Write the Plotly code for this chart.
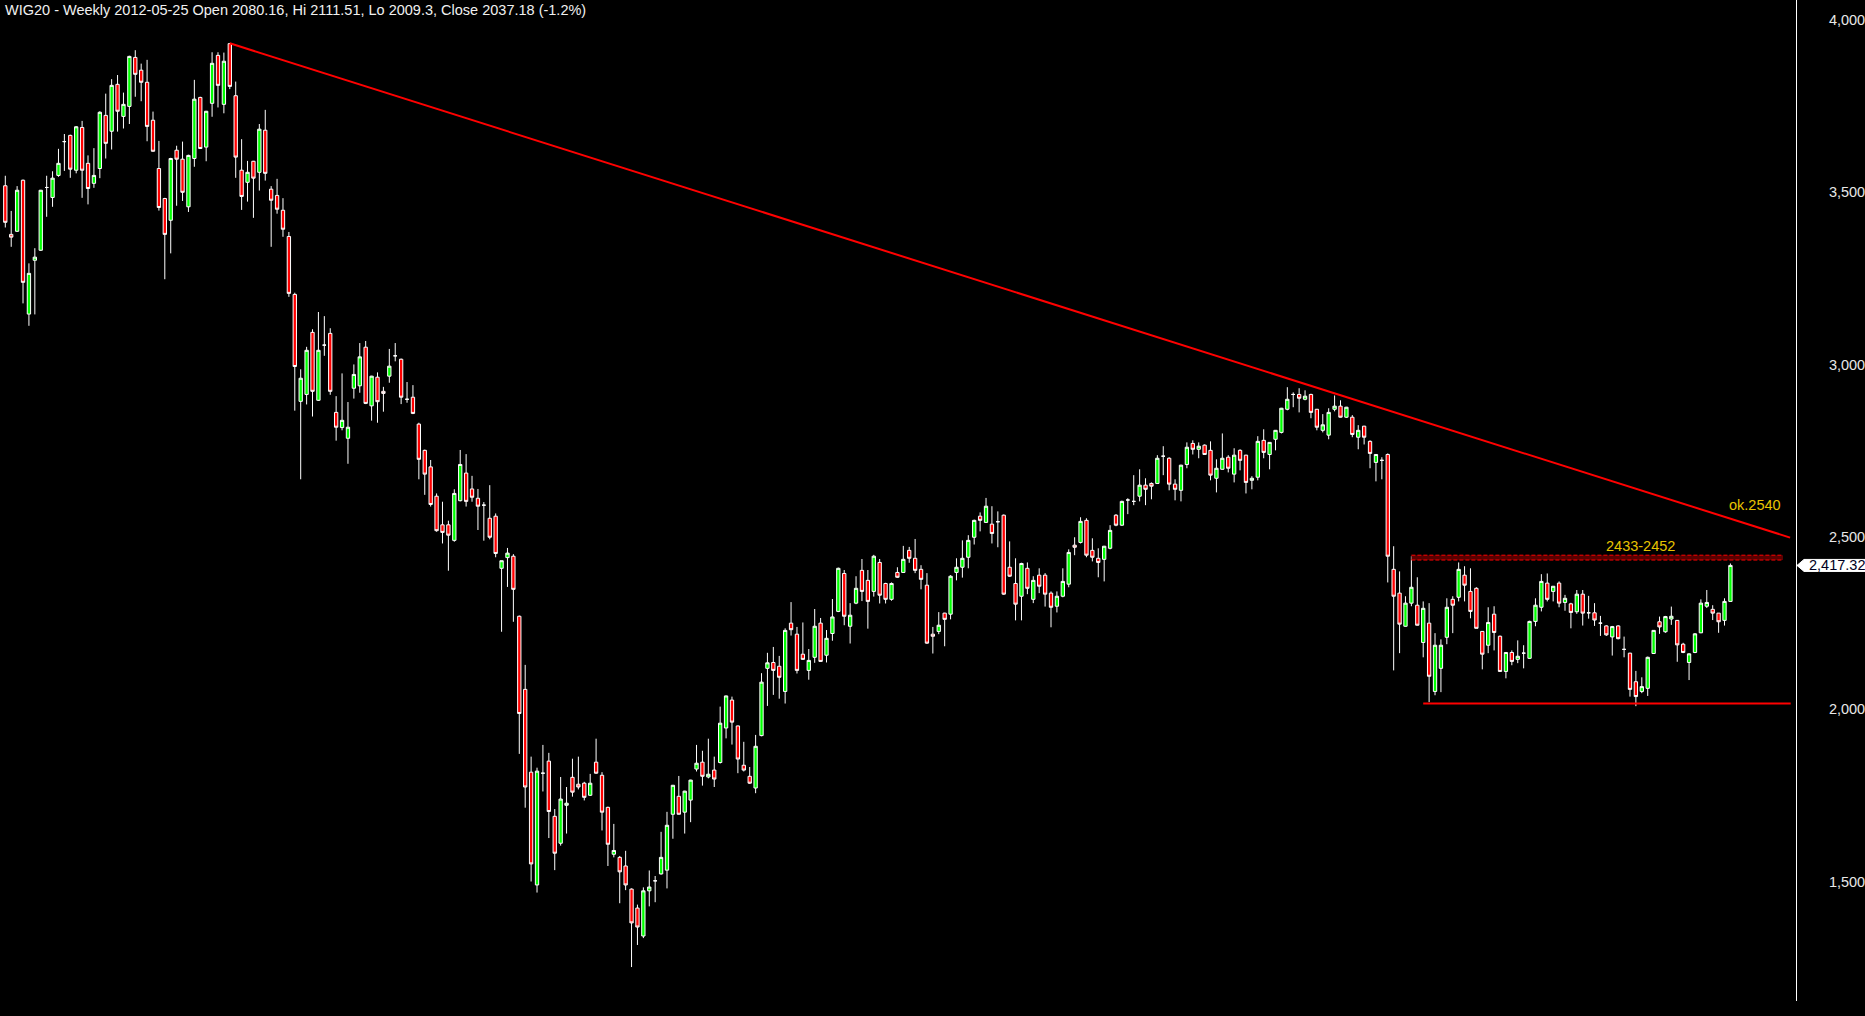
import plotly.graph_objects as go

# ---- weekly OHLC for WIG20 ----
opens = [3518, 3377, 3386, 3534, 3146, 3302, 3331, 3513, 3484, 3548,
         3646, 3664, 3563, 3687, 3583, 3525, 3568, 3722, 3676, 3812,
         3719, 3748, 3890, 3853, 3818, 3708, 3568, 3481, 3418, 3621,
         3595, 3457, 3597, 3774, 3630, 3757, 3896, 3754, 3930, 3779,
         3563, 3528, 3589, 3557, 3679, 3508, 3490, 3447, 3371, 3203,
         2893, 2913, 3093, 2896, 3056, 3090, 2861, 2817, 2786, 2931,
         2938, 3050, 2880, 2963, 2922, 2966, 3025, 3015, 2899, 2905,
         2827, 2751, 2703, 2618, 2535, 2535, 2490, 2605, 2685, 2639,
         2612, 2592, 2554, 2560, 2409, 2440, 2444, 2270, 2058, 1818,
         1491, 1815, 1850, 1690, 1612, 1722, 1803, 1783, 1786, 1751,
         1847, 1809, 1716, 1580, 1571, 1546, 1479, 1424, 1343, 1474,
         1503, 1523, 1534, 1696, 1748, 1702, 1737, 1827, 1847, 1804,
         1824, 1846, 1946, 2027, 1952, 1838, 1806, 1772, 1924, 2119,
         2136, 2125, 2052, 2250, 2218, 2160, 2113, 2151, 2250, 2157,
         2220, 2284, 2394, 2241, 2308, 2403, 2374, 2342, 2426, 2365,
         2319, 2397, 2397, 2461, 2438, 2406, 2360, 2218, 2226, 2279,
         2276, 2397, 2412, 2441, 2499, 2560, 2542, 2537, 2544, 2563,
         2412, 2365, 2328, 2409, 2319, 2389, 2389, 2337, 2299, 2328,
         2363, 2476, 2484, 2548, 2461, 2438, 2435, 2467, 2563, 2534,
         2607, 2603, 2618, 2650, 2655, 2655, 2734, 2728, 2653, 2635,
         2710, 2771, 2754, 2766, 2751, 2670, 2696, 2731, 2682, 2751,
         2737, 2664, 2673, 2780, 2739, 2783, 2803, 2870, 2913, 2913,
         2899, 2913, 2870, 2809, 2795, 2870, 2879, 2847, 2847, 2789,
         2821, 2777, 2716, 2722, 2739, 2406, 2337, 2241, 2308, 2302,
         2194, 2250, 2052, 2119, 2209, 2319, 2325, 2389, 2342, 2351,
         2226, 2186, 2276, 2212, 2110, 2165, 2145, 2163, 2148, 2255,
         2296, 2366, 2342, 2366, 2310, 2306, 2283, 2334, 2280, 2280,
         2250, 2242, 2210, 2242, 2174, 2163, 2080.16, 2052, 2061, 2162,
         2254, 2225, 2262, 2258, 2189, 2136, 2165, 2222, 2299, 2290,
         2279, 2258, 2313]
highs = [3547, 3445, 3517, 3536, 3293, 3337, 3506, 3547, 3560, 3625,
         3668, 3666, 3691, 3706, 3606, 3627, 3734, 3785, 3827, 3839,
         3788, 3895, 3911, 3872, 3883, 3733, 3648, 3483, 3599, 3634,
         3646, 3608, 3825, 3776, 3735, 3905, 3905, 3904, 3932, 3820,
         3653, 3590, 3590, 3697, 3738, 3517, 3538, 3482, 3384, 3208,
         2986, 3051, 3102, 3152, 3140, 3105, 2908, 2974, 2891, 3000,
         3062, 3068, 2967, 2977, 2935, 3045, 3062, 3017, 2949, 2940,
         2831, 2753, 2723, 2626, 2602, 2547, 2638, 2752, 2740, 2677,
         2639, 2601, 2650, 2568, 2431, 2468, 2450, 2272, 2129, 1863,
         1831, 1897, 1874, 1711, 1804, 1775, 1857, 1863, 1790, 1813,
         1915, 1818, 1718, 1668, 1575, 1590, 1481, 1434, 1484, 1533,
         1517, 1645, 1703, 1781, 1807, 1764, 1796, 1897, 1880, 1915,
         1863, 2008, 2040, 2037, 1953, 1906, 1833, 1926, 2105, 2164,
         2181, 2155, 2235, 2311, 2239, 2252, 2175, 2291, 2265, 2230,
         2320, 2411, 2404, 2308, 2386, 2436, 2404, 2448, 2436, 2367,
         2368, 2412, 2474, 2471, 2494, 2418, 2395, 2239, 2282, 2280,
         2389, 2438, 2490, 2505, 2550, 2571, 2613, 2589, 2574, 2565,
         2487, 2438, 2425, 2426, 2386, 2409, 2395, 2342, 2342, 2409,
         2464, 2499, 2557, 2554, 2496, 2467, 2474, 2534, 2566, 2605,
         2612, 2679, 2696, 2670, 2658, 2737, 2763, 2731, 2667, 2709,
         2774, 2780, 2774, 2768, 2777, 2725, 2800, 2737, 2757, 2754,
         2738, 2676, 2792, 2812, 2775, 2810, 2874, 2934, 2919, 2931,
         2925, 2915, 2871, 2856, 2873, 2910, 2896, 2877, 2853, 2824,
         2822, 2780, 2740, 2731, 2742, 2473, 2400, 2328, 2444, 2383,
         2313, 2308, 2221, 2203, 2322, 2328, 2426, 2415, 2409, 2354,
         2227, 2296, 2299, 2214, 2166, 2171, 2200, 2186, 2257, 2322,
         2392, 2394, 2357, 2371, 2332, 2309, 2346, 2346, 2329, 2308,
         2271, 2244, 2242, 2244, 2211, 2164, 2111.51, 2093, 2153, 2230,
         2269, 2271, 2298, 2259, 2193, 2163, 2221, 2319, 2346, 2302,
         2279, 2322, 2423]
lows = [3397, 3341, 3384, 3177, 3112, 3145, 3329, 3428, 3457, 3544,
        3561, 3541, 3554, 3483, 3464, 3512, 3540, 3597, 3623, 3675,
        3684, 3697, 3776, 3763, 3647, 3617, 3446, 3247, 3322, 3460,
        3474, 3442, 3573, 3625, 3589, 3718, 3745, 3728, 3798, 3541,
        3448, 3472, 3425, 3504, 3533, 3341, 3437, 3370, 3196, 2866,
        2667, 2884, 2849, 2894, 3025, 2912, 2779, 2809, 2712, 2901,
        2918, 2885, 2837, 2831, 2863, 2947, 3009, 2885, 2889, 2856,
        2667, 2622, 2588, 2515, 2481, 2402, 2486, 2603, 2588, 2602,
        2520, 2489, 2493, 2441, 2225, 2355, 2254, 1871, 1715, 1501,
        1469, 1762, 1627, 1534, 1605, 1640, 1747, 1768, 1736, 1749,
        1813, 1649, 1546, 1571, 1438, 1476, 1253, 1317, 1337, 1429,
        1441, 1521, 1481, 1625, 1695, 1640, 1673, 1820, 1779, 1800,
        1775, 1843, 1916, 1898, 1815, 1820, 1784, 1757, 1922, 2010,
        2042, 2031, 2017, 2214, 2104, 2144, 2086, 2135, 2138, 2136,
        2199, 2282, 2244, 2191, 2305, 2314, 2234, 2327, 2307, 2307,
        2315, 2381, 2396, 2425, 2395, 2348, 2190, 2162, 2218, 2183,
        2261, 2374, 2382, 2409, 2478, 2516, 2541, 2481, 2470, 2332,
        2384, 2258, 2258, 2334, 2308, 2337, 2298, 2238, 2281, 2325,
        2354, 2447, 2481, 2441, 2429, 2383, 2371, 2464, 2531, 2532,
        2566, 2592, 2603, 2592, 2609, 2654, 2679, 2635, 2606, 2603,
        2699, 2739, 2728, 2738, 2664, 2629, 2695, 2687, 2658, 2693,
        2626, 2638, 2664, 2728, 2696, 2751, 2800, 2867, 2876, 2861,
        2896, 2844, 2809, 2803, 2783, 2864, 2846, 2845, 2789, 2754,
        2768, 2699, 2661, 2667, 2368, 2113, 2163, 2240, 2299, 2243,
        2151, 2021, 2041, 2050, 2189, 2221, 2313, 2313, 2264, 2235,
        2116, 2163, 2171, 2109, 2090, 2128, 2134, 2119, 2147, 2241,
        2284, 2313, 2313, 2296, 2286, 2235, 2277, 2243, 2263, 2242,
        2213, 2213, 2156, 2203, 2151, 2037, 2009.3, 2047, 2039, 2161,
        2219, 2222, 2245, 2138, 2163, 2085, 2163, 2221, 2294, 2259,
        2222, 2243, 2313]
closes = [3412, 3369, 3505, 3238, 3264, 3311, 3505, 3513, 3540, 3583,
          3646, 3566, 3689, 3563, 3510, 3548, 3731, 3641, 3809, 3734,
          3754, 3893, 3841, 3818, 3690, 3618, 3455, 3377, 3597, 3595,
          3499, 3606, 3769, 3626, 3734, 3873, 3809, 3879, 3806, 3601,
          3487, 3557, 3540, 3682, 3554, 3476, 3450, 3392, 3206, 2994,
          2960, 3041, 2922, 3041, 3056, 2922, 2818, 2838, 2818, 2971,
          3022, 2887, 2966, 2892, 2916, 2995, 3025, 2905, 2899, 2858,
          2725, 2682, 2594, 2518, 2513, 2505, 2626, 2710, 2603, 2615,
          2589, 2592, 2499, 2452, 2431, 2453, 2348, 1988, 1775, 1552,
          1821, 1815, 1704, 1583, 1740, 1728, 1760, 1775, 1745, 1786,
          1815, 1702, 1609, 1591, 1529, 1491, 1381, 1369, 1474, 1485,
          1503, 1571, 1664, 1780, 1696, 1763, 1795, 1844, 1806, 1812,
          1798, 1960, 2039, 1963, 1856, 1824, 1786, 1893, 2079, 2135,
          2113, 2093, 2229, 2231, 2113, 2145, 2142, 2241, 2139, 2206,
          2268, 2409, 2270, 2273, 2351, 2342, 2313, 2444, 2331, 2319,
          2365, 2383, 2435, 2438, 2403, 2377, 2192, 2212, 2244, 2261,
          2386, 2412, 2438, 2490, 2548, 2548, 2589, 2510, 2544, 2334,
          2386, 2305, 2423, 2351, 2374, 2357, 2334, 2296, 2328, 2371,
          2455, 2470, 2545, 2447, 2441, 2426, 2473, 2519, 2534, 2603,
          2607, 2603, 2650, 2638, 2647, 2728, 2734, 2653, 2638, 2708,
          2760, 2754, 2763, 2739, 2679, 2699, 2728, 2699, 2737, 2722,
          2658, 2670, 2777, 2745, 2774, 2809, 2873, 2899, 2913, 2902,
          2908, 2861, 2818, 2825, 2861, 2879, 2847, 2876, 2797, 2809,
          2789, 2742, 2739, 2722, 2444, 2328, 2247, 2308, 2354, 2244,
          2293, 2096, 2186, 2186, 2296, 2302, 2406, 2360, 2284, 2235,
          2160, 2252, 2223, 2110, 2165, 2139, 2154, 2163, 2255, 2302,
          2371, 2319, 2357, 2308, 2322, 2281, 2334, 2279, 2280, 2259,
          2250, 2216, 2240, 2205, 2174, 2058, 2037.18, 2066, 2151, 2229,
          2239, 2269, 2270, 2187, 2165, 2161, 2219, 2308, 2310, 2279,
          2254, 2313, 2417.32]
weeks = list(range(len(closes)))

# ---- drawn studies (week index, price) ----
trend_x = [38, 302.1]
trend_y = [3931, 2498]
support_x = [240, 302.2]
support_y = 2017
zone_x = [238, 300.9]
zone_y = [2433, 2447]
zone_label = "2433-2452"
zone_label_pos = (276.8, 2474.5)
target_label = "ok.2540"
target_label_pos = (296.2, 2592.5)
last_price = 2417.32
title_text = "WIG20 - Weekly 2012-05-25 Open 2080.16, Hi 2111.51, Lo 2009.3, Close 2037.18 (-1.2%)"
y_ticks = [1500, 2000, 2500, 3000, 3500, 4000]

FONT = "Liberation Sans, Arial, sans-serif"
GOLD = "#E8C400"

fig = go.Figure()
fig.add_trace(go.Candlestick(
    x=weeks, open=opens, high=highs, low=lows, close=closes,
    increasing=dict(fillcolor="#00FF00", line=dict(color="white", width=1)),
    decreasing=dict(fillcolor="#FF0000", line=dict(color="white", width=1)),
    whiskerwidth=0, hoverinfo="skip", showlegend=False,
))

shapes = []
# resistance zone
shapes.append(dict(type="rect", xref="x", yref="y", x0=zone_x[0], x1=zone_x[1],
                   y0=zone_y[0], y1=zone_y[1], fillcolor="#5A0000",
                   line=dict(width=0), layer="above"))
for yy in zone_y:
    shapes.append(dict(type="line", xref="x", yref="y", x0=zone_x[0], x1=zone_x[1],
                       y0=yy, y1=yy, line=dict(color="#FF0000", width=1, dash="4px,2px"),
                       layer="above"))
# trend line
shapes.append(dict(type="line", xref="x", yref="y", x0=trend_x[0], x1=trend_x[1],
                   y0=trend_y[0], y1=trend_y[1], line=dict(color="#FF0000", width=2),
                   layer="above"))
# support line
shapes.append(dict(type="line", xref="x", yref="y", x0=support_x[0], x1=support_x[1],
                   y0=support_y, y1=support_y, line=dict(color="#FF0000", width=2),
                   layer="above"))
# last price tag
shapes.append(dict(type="path", xref="paper", xsizemode="pixel", xanchor=1,
                   yref="y", ysizemode="pixel", yanchor=last_price,
                   path="M 1,0 L 8,6 L 75,6 L 75,-6 L 8,-6 Z",
                   fillcolor="white", line=dict(color="white", width=1), layer="above"))

annotations = [
    dict(text=title_text, xref="paper", yref="paper", x=0, y=1, xanchor="left",
         yanchor="middle", xshift=3, yshift=-9.5, showarrow=False,
         font=dict(family=FONT, size=14.5, color="#F0F0F0")),
    dict(text=zone_label, xref="x", yref="y", x=zone_label_pos[0], y=zone_label_pos[1],
         showarrow=False, font=dict(family=FONT, size=14.5, color=GOLD)),
    dict(text=target_label, xref="x", yref="y", x=target_label_pos[0], y=target_label_pos[1],
         showarrow=False, font=dict(family=FONT, size=14.5, color=GOLD)),
    dict(text=f"{last_price:,.2f}", xref="paper", yref="y", x=1, y=last_price,
         xanchor="left", yanchor="middle", xshift=11, showarrow=False,
         font=dict(family=FONT, size=14.5, color="#000022")),
]

fig.update_layout(
    width=1865, height=1016,
    margin=dict(l=0, r=69, t=0, b=15, pad=0),
    paper_bgcolor="black", plot_bgcolor="black",
    boxgap=0.2,
    showlegend=False,
    shapes=shapes, annotations=annotations,
    xaxis=dict(visible=False, range=[-0.897, 303.1], rangeslider=dict(visible=False),
               fixedrange=True),
    yaxis=dict(side="right", range=[1154.6, 4056.5], tickvals=y_ticks,
               tickformat=",d", showgrid=False, zeroline=False,
               showline=True, linecolor="white", linewidth=1, ticks="",
               ticklabelstandoff=29,
               tickfont=dict(family=FONT, size=14.5, color="#E8E8E8"),
               fixedrange=True),
)

fig.write_html("out.html", config={"displayModeBar": False},
               post_script="document.body.style.margin='0px';document.body.style.backgroundColor='black';document.body.style.overflow='hidden';")
